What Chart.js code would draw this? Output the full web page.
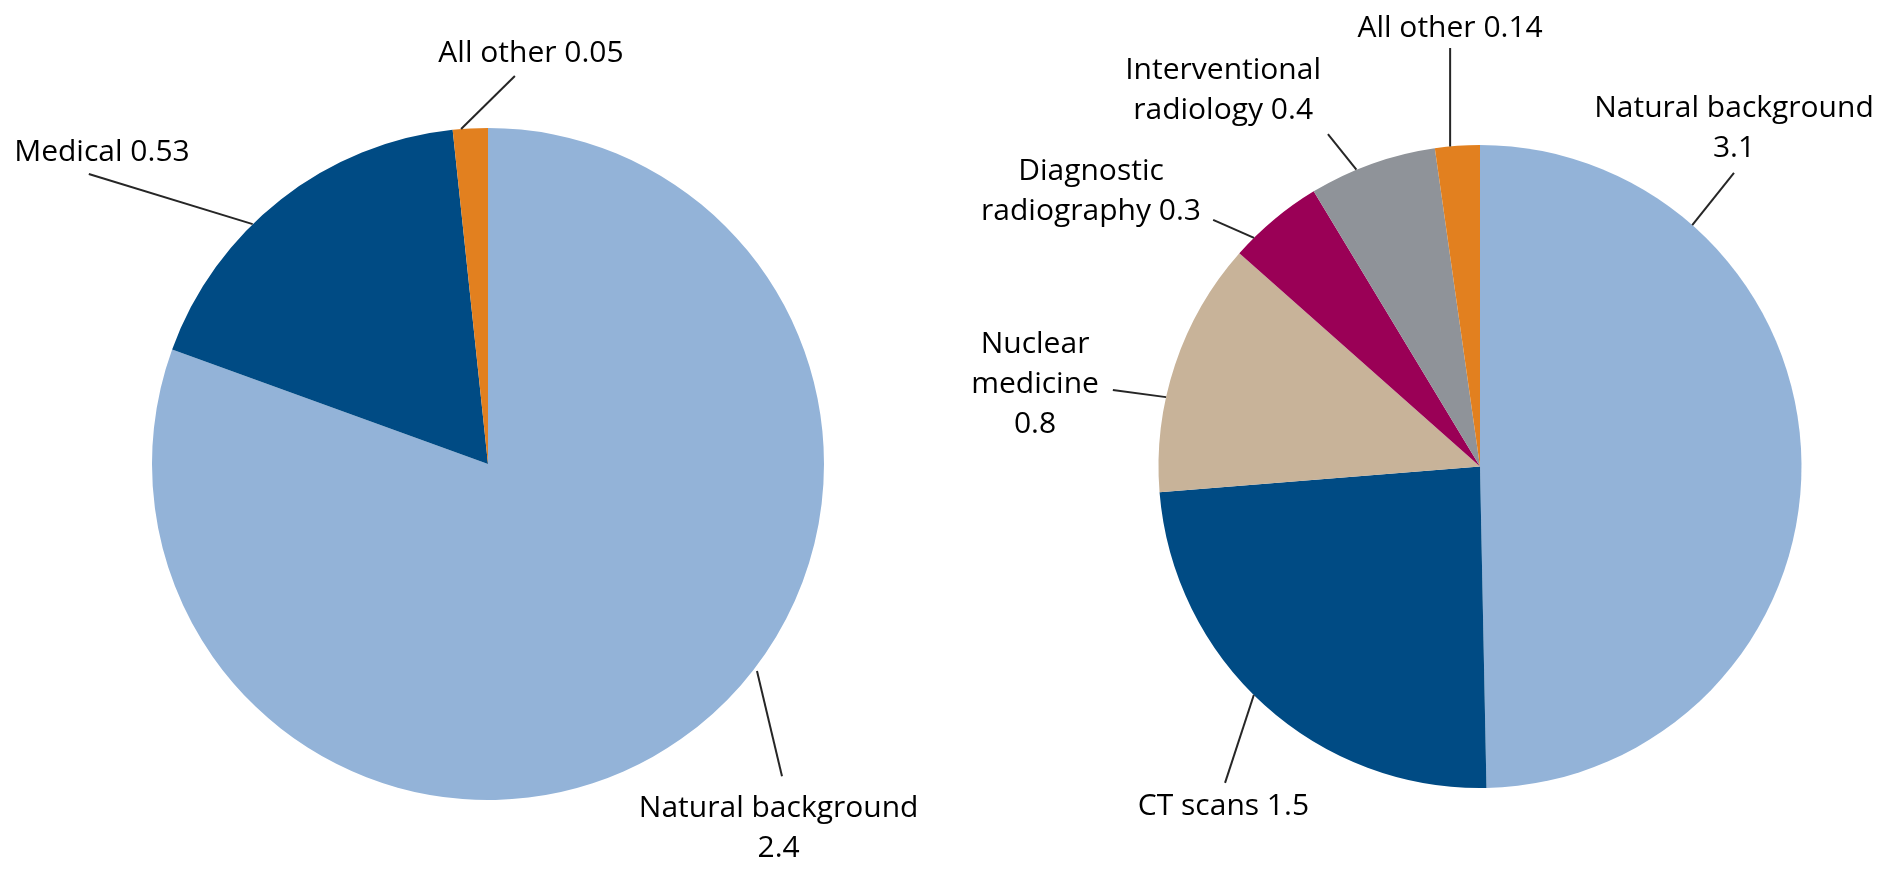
<!DOCTYPE html>
<html>
<head>
<meta charset="utf-8">
<script src="https://cdn.jsdelivr.net/npm/chart.js@4.4.1/dist/chart.umd.min.js"></script>
<style>
  html, body { margin: 0; padding: 0; background: #ffffff; }
  #wrap { position: relative; width: 1890px; height: 874px; overflow: hidden; background: #fff; }
  canvas { position: absolute; top: 0; }
  #c1 { left: 0; }
  #c2 { left: 945px; }
</style>
</head>
<body>
<div id="wrap">
  <canvas id="c1" width="945" height="874"></canvas>
  <canvas id="c2" width="945" height="874"></canvas>
</div>
<script>
// ---- Data ----
const leftCategories = ["Natural background", "Medical", "All other"];
const leftValues = [2.4, 0.53, 0.05];

const rightCategories = ["Natural background", "CT scans", "Nuclear medicine", "Diagnostic radiography", "Interventional radiology", "All other"];
const rightValues = [3.1, 1.5, 0.8, 0.3, 0.4, 0.14];

// label text lines
const leftLabelLines = [
  ["Natural background", "2.4"],
  ["Medical 0.53"],
  ["All other 0.05"]
];
const rightLabelLines = [
  ["Natural background", "3.1"],
  ["CT scans 1.5"],
  ["Nuclear", "medicine", "0.8"],
  ["Diagnostic", "radiography 0.3"],
  ["Interventional", "radiology 0.4"],
  ["All other 0.14"]
];

// ---- Styles ----
const leftColors = ["#93B3D8", "#004B84", "#E2801F"];
const rightColors = ["#93B3D8", "#004B84", "#C8B399", "#9A0056", "#8F9399", "#E2801F"];
const FONT = "30px 'Open Sans'";
const TEXT_COLOR = "#000000";
const LINE_COLOR = "#262626";

// leader-line layout, relative to each slice / pie radius
const leftLayout = [
  { t: 0.44, rf: 1.01, to: [0.875, 0.929], at: [0.865, 1.051] },
  { t: 0.40, rf: 1.0, to: [-1.188, -0.863], at: [-1.149, -0.902] },
  { t: 0.24, rf: 1.0, to: [0.080, -1.155], at: [0.128, -1.196] }
];
const rightLayout = [
  { t: 0.231, rf: 1.0, to: [0.790, -0.913], at: [0.790, -1.087] },
  { t: 0.53, rf: 1.0, to: [-0.793, 0.984], at: [-0.798, 1.084] },
  { t: 0.37, rf: 1.0, to: [-1.142, -0.238], at: [-1.384, -0.353] },
  { t: 0.22, rf: 1.0, to: [-0.830, -0.767], at: [-1.210, -0.891] },
  { t: 0.37, rf: 1.0, to: [-0.473, -1.034], at: [-0.799, -1.205] },
  { t: 0.34, rf: 1.0, to: [-0.093, -1.302], at: [-0.093, -1.336] }
];
const LINE_GAP = 40;

const leaderPlugin = {
  id: 'leaders',
  afterDraw(chart, args, opts) {
    const ctx = chart.ctx;
    const meta = chart.getDatasetMeta(0);
    ctx.save();
    meta.data.forEach((arc, i) => {
      const L = opts.layout[i];
      const lines = opts.lines[i];
      const r = arc.outerRadius;
      const a = arc.startAngle + L.t * (arc.endAngle - arc.startAngle);
      const x0 = arc.x + Math.cos(a) * r * L.rf;
      const y0 = arc.y + Math.sin(a) * r * L.rf;
      const x1 = arc.x + L.to[0] * r;
      const y1 = arc.y + L.to[1] * r;
      ctx.strokeStyle = LINE_COLOR;
      ctx.lineWidth = 2;
      ctx.beginPath();
      ctx.moveTo(x0, y0);
      ctx.lineTo(x1, y1);
      ctx.stroke();
      ctx.fillStyle = TEXT_COLOR;
      ctx.font = FONT;
      ctx.textAlign = 'center';
      ctx.textBaseline = 'alphabetic';
      const tx = arc.x + L.at[0] * r;
      const ty = arc.y + L.at[1] * r;
      lines.forEach((s, k) => ctx.fillText(s, tx, ty + k * LINE_GAP));
    });
    ctx.restore();
  }
};

function makePie(id, labels, values, colors, layout, lines, padding) {
  return new Chart(document.getElementById(id), {
    type: 'pie',
    data: {
      labels: labels,
      datasets: [{
        data: values,
        backgroundColor: colors,
        borderWidth: 0,
        hoverOffset: 0
      }]
    },
    options: {
      responsive: false,
      animation: false,
      devicePixelRatio: 1,
      layout: { padding: padding },
      plugins: {
        legend: { display: false },
        tooltip: { enabled: false },
        leaders: { layout: layout, lines: lines }
      }
    },
    plugins: [leaderPlugin]
  });
}

makePie('c1', leftCategories, leftValues, leftColors, leftLayout, leftLabelLines,
  { left: 152, top: 128, right: 121, bottom: 74 });
makePie('c2', rightCategories, rightValues, rightColors, rightLayout, rightLabelLines,
  { left: 213.5, top: 145, right: 88.5, bottom: 86 });
</script>
</body>
</html>
